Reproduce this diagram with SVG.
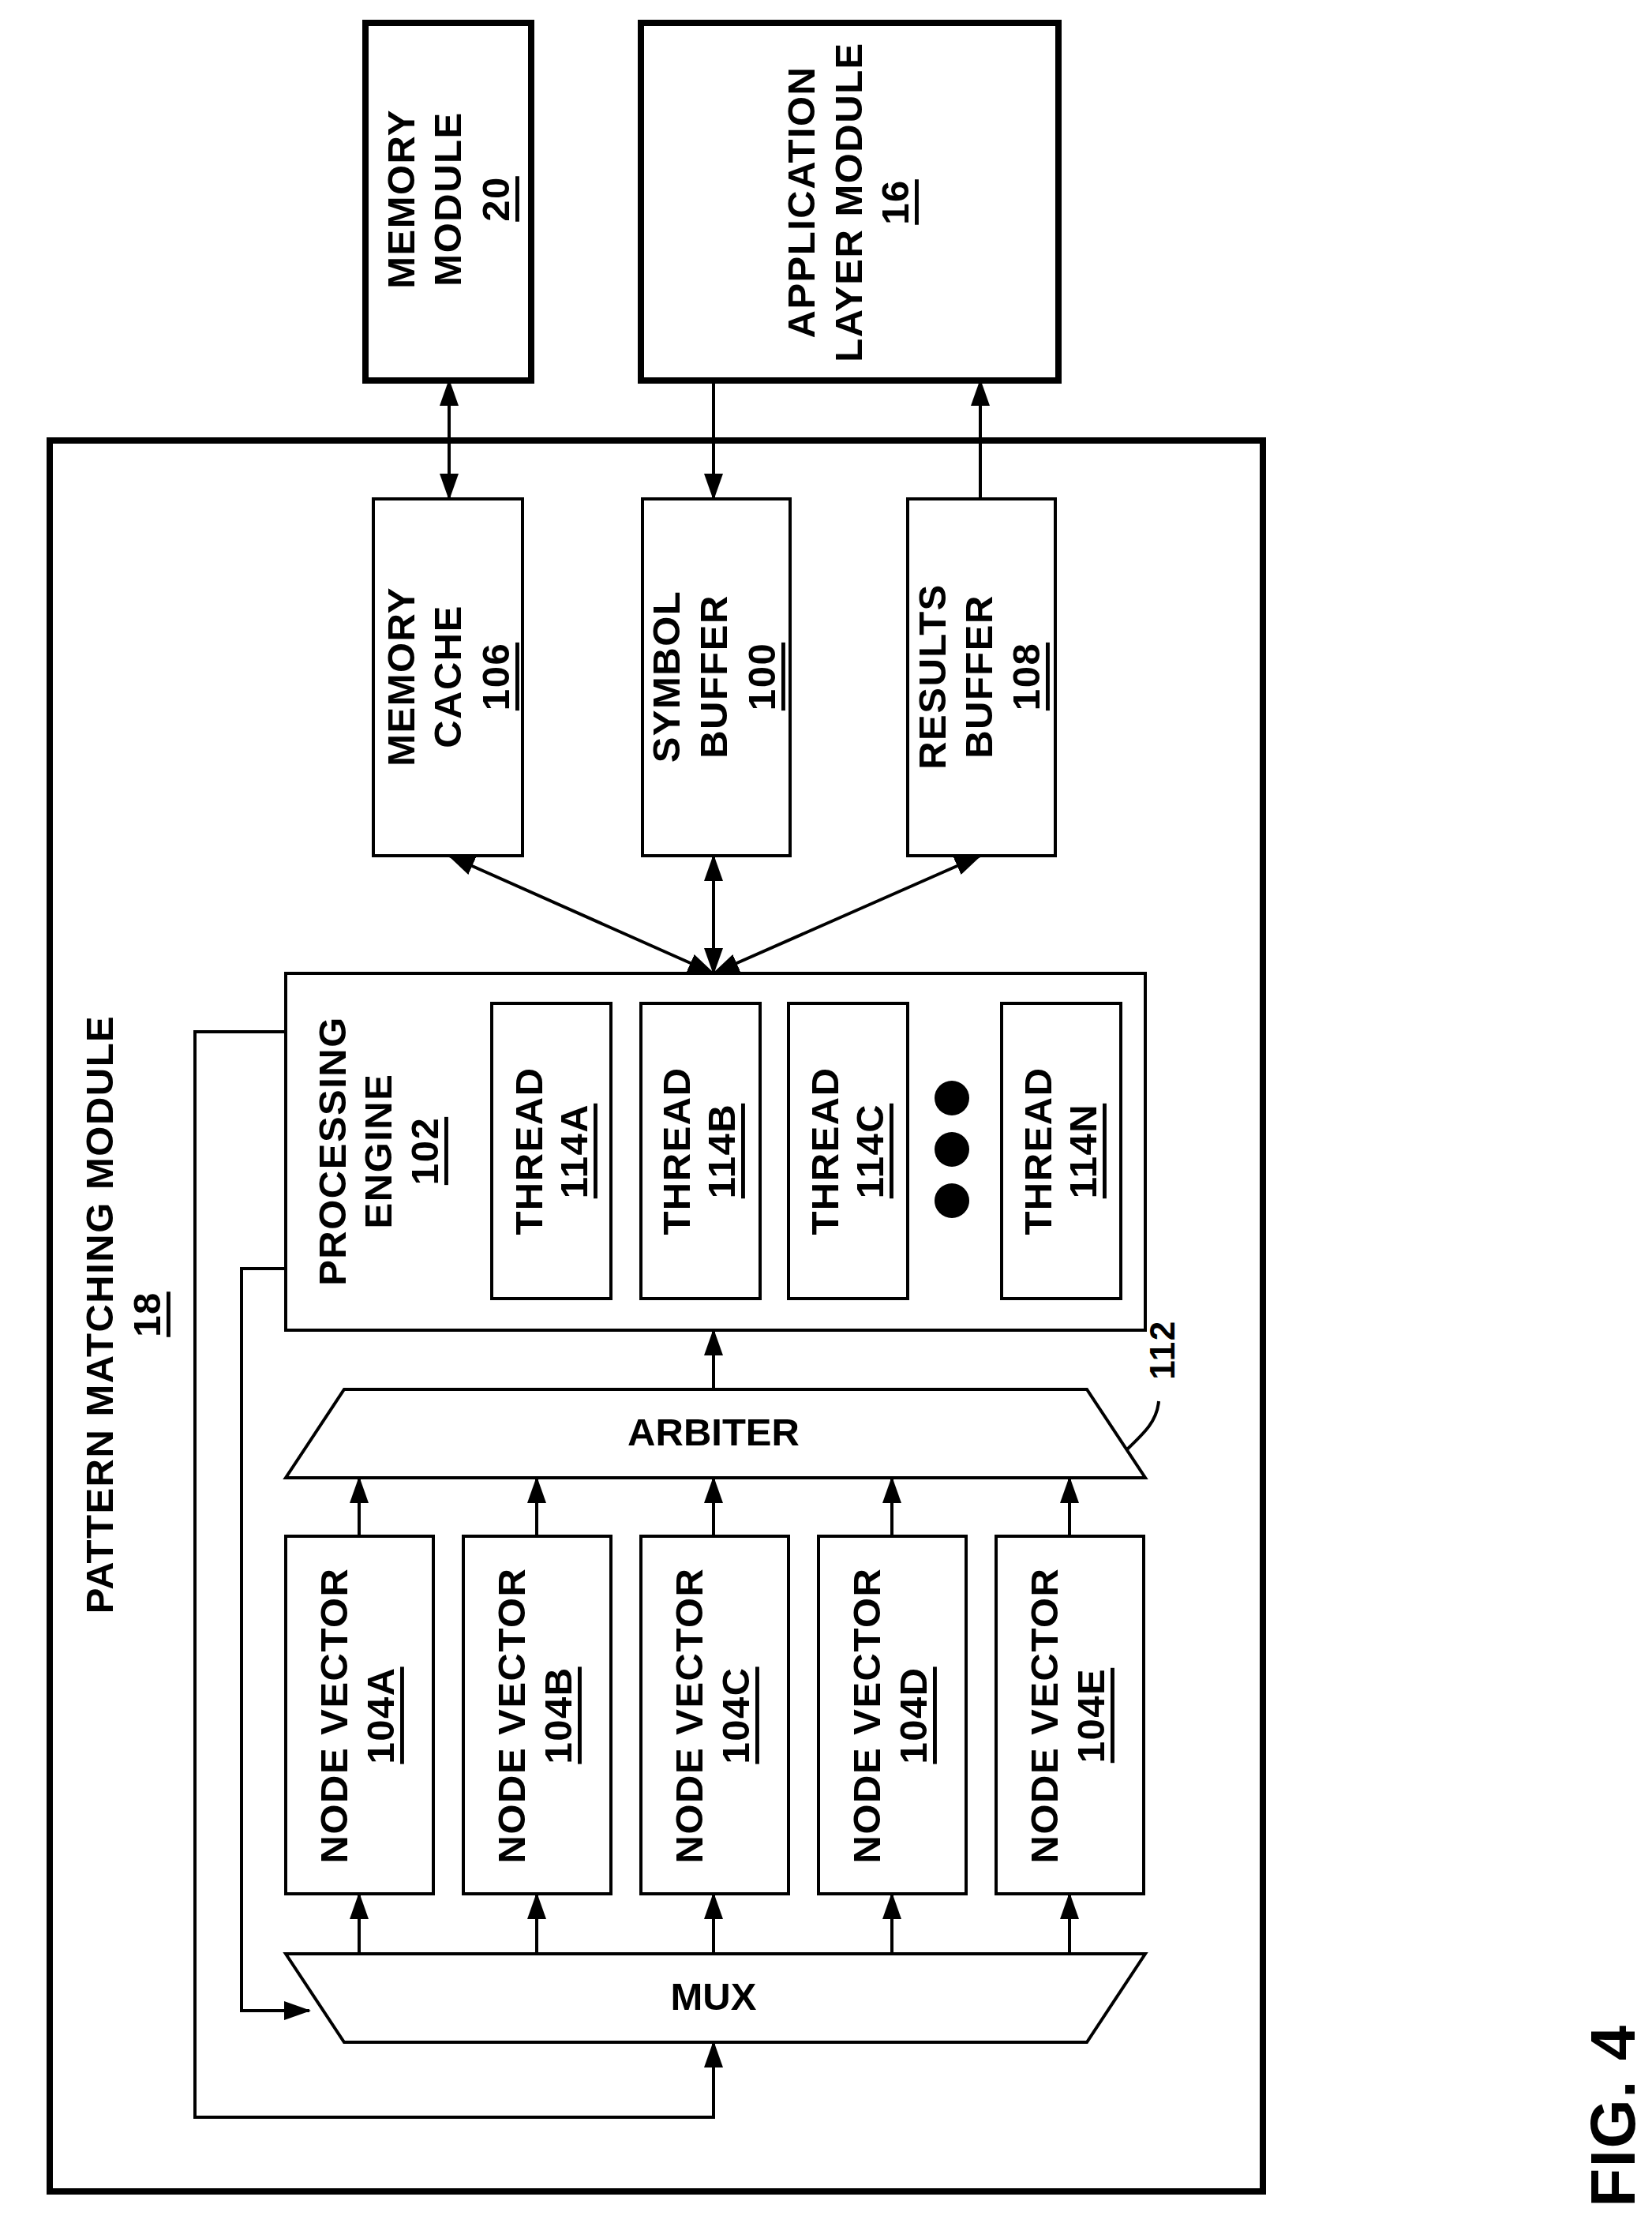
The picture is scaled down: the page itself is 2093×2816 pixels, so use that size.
<svg xmlns="http://www.w3.org/2000/svg" width="2093" height="2816" viewBox="0 0 2093 2816">
<style>
.b{fill:#fff;stroke:#000;stroke-width:4}
.k{fill:#fff;stroke:#000;stroke-width:8}
.t{font-family:"Liberation Sans",Arial,sans-serif;font-weight:bold;font-size:49px;letter-spacing:1.5px;text-anchor:middle;dominant-baseline:central}
.u{text-decoration:underline}
.c{fill:none;stroke:#000;stroke-width:4}
</style>
<defs>
<marker id="a" markerUnits="userSpaceOnUse" markerWidth="34" markerHeight="24" refX="32" refY="12" orient="auto-start-reverse"><path d="M0,0 L34,12 L0,24 Z" fill="#000"/></marker>
</defs>
<rect width="2093" height="2816" fill="#fff"/>
<g id="pmm"><rect class="k" x="63" y="558" width="1537" height="2218"/>
<text class="t" transform="translate(126,1665) rotate(-90)">PATTERN MATCHING MODULE</text>
<text class="t u" transform="translate(186,1665) rotate(-90)">18</text></g>
<g id="mem"><rect class="k" x="463" y="29" width="210" height="453"/>
<text class="t" transform="translate(508,252) rotate(-90)">MEMORY</text>
<text class="t" transform="translate(567,252) rotate(-90)">MODULE</text>
<text class="t u" transform="translate(628,252) rotate(-90)">20</text></g>
<g id="app"><rect class="k" x="812" y="29" width="529" height="453"/>
<text class="t" transform="translate(1015,256) rotate(-90)">APPLICATION</text>
<text class="t" transform="translate(1075,256) rotate(-90)">LAYER MODULE</text>
<text class="t u" transform="translate(1134,256) rotate(-90)">16</text></g>
<g id="cache"><rect class="b" x="473" y="632" width="189" height="452"/>
<text class="t" transform="translate(508,857) rotate(-90)">MEMORY</text>
<text class="t" transform="translate(567,857) rotate(-90)">CACHE</text>
<text class="t u" transform="translate(628,857) rotate(-90)">106</text></g>
<g id="symbol"><rect class="b" x="814" y="632" width="187" height="452"/>
<text class="t" transform="translate(844,857) rotate(-90)">SYMBOL</text>
<text class="t" transform="translate(904,857) rotate(-90)">BUFFER</text>
<text class="t u" transform="translate(965,857) rotate(-90)">100</text></g>
<g id="results"><rect class="b" x="1150" y="632" width="187" height="452"/>
<text class="t" transform="translate(1181,857) rotate(-90)">RESULTS</text>
<text class="t" transform="translate(1240,857) rotate(-90)">BUFFER</text>
<text class="t u" transform="translate(1300,857) rotate(-90)">108</text></g>
<g id="pe"><rect class="b" x="362" y="1233" width="1089" height="452"/>
<text class="t" transform="translate(421,1458) rotate(-90)">PROCESSING</text>
<text class="t" transform="translate(479,1458) rotate(-90)">ENGINE</text>
<text class="t u" transform="translate(538,1458) rotate(-90)">102</text>
<circle cx="1206" cy="1391" r="22"/><circle cx="1206" cy="1456" r="22"/><circle cx="1206" cy="1521" r="22"/></g>
<g id="t114a"><rect class="b" x="623" y="1271" width="151" height="374"/>
<text class="t" transform="translate(670,1458) rotate(-90)">THREAD</text>
<text class="t u" transform="translate(727,1458) rotate(-90)">114A</text></g>
<g id="t114b"><rect class="b" x="812" y="1271" width="151" height="374"/>
<text class="t" transform="translate(857,1458) rotate(-90)">THREAD</text>
<text class="t u" transform="translate(914,1458) rotate(-90)">114B</text></g>
<g id="t114c"><rect class="b" x="999" y="1271" width="151" height="374"/>
<text class="t" transform="translate(1045,1458) rotate(-90)">THREAD</text>
<text class="t u" transform="translate(1102,1458) rotate(-90)">114C</text></g>
<g id="t114n"><rect class="b" x="1269" y="1271" width="151" height="374"/>
<text class="t" transform="translate(1315,1458) rotate(-90)">THREAD</text>
<text class="t u" transform="translate(1372,1458) rotate(-90)">114N</text></g>
<g id="arbiter"><path class="b" d="M436,1760 L1377,1760 L1451,1872 L362,1872 Z"/>
<text class="t" x="904" y="1814" style="letter-spacing:0">ARBITER</text>
<text class="t" transform="translate(1472,1710) rotate(-90)" style="font-size:44px">112</text></g>
<g id="nv104a"><rect class="b" x="362" y="1946" width="187" height="453"/>
<text class="t" transform="translate(423,2173) rotate(-90)">NODE VECTOR</text>
<text class="t u" transform="translate(482,2173) rotate(-90)">104A</text></g>
<g id="nv104b"><rect class="b" x="587" y="1946" width="187" height="453"/>
<text class="t" transform="translate(648,2173) rotate(-90)">NODE VECTOR</text>
<text class="t u" transform="translate(707,2173) rotate(-90)">104B</text></g>
<g id="nv104c"><rect class="b" x="812" y="1946" width="187" height="453"/>
<text class="t" transform="translate(873,2173) rotate(-90)">NODE VECTOR</text>
<text class="t u" transform="translate(932,2173) rotate(-90)">104C</text></g>
<g id="nv104d"><rect class="b" x="1037" y="1946" width="187" height="453"/>
<text class="t" transform="translate(1098,2173) rotate(-90)">NODE VECTOR</text>
<text class="t u" transform="translate(1157,2173) rotate(-90)">104D</text></g>
<g id="nv104e"><rect class="b" x="1262" y="1946" width="187" height="453"/>
<text class="t" transform="translate(1323,2173) rotate(-90)">NODE VECTOR</text>
<text class="t u" transform="translate(1382,2173) rotate(-90)">104E</text></g>
<g id="mux"><path class="b" d="M362,2475 L1451,2475 L1377,2587 L436,2587 Z"/>
<text class="t" x="904" y="2529" style="letter-spacing:0">MUX</text></g>
<g id="connectors">
<line class="c" x1="569" y1="482" x2="569" y2="632" marker-start="url(#a)" marker-end="url(#a)"/>
<line class="c" x1="904" y1="482" x2="904" y2="632" marker-end="url(#a)"/>
<line class="c" x1="1242" y1="632" x2="1242" y2="482" marker-end="url(#a)"/>
<line class="c" x1="569" y1="1084" x2="904" y2="1233" marker-start="url(#a)" marker-end="url(#a)"/>
<line class="c" x1="904" y1="1084" x2="904" y2="1233" marker-start="url(#a)" marker-end="url(#a)"/>
<line class="c" x1="1242" y1="1084" x2="904" y2="1233" marker-start="url(#a)" marker-end="url(#a)"/>
<line class="c" x1="904" y1="1760" x2="904" y2="1685" marker-end="url(#a)"/>
<line class="c" x1="455" y1="1946" x2="455" y2="1872" marker-end="url(#a)"/>
<line class="c" x1="680" y1="1946" x2="680" y2="1872" marker-end="url(#a)"/>
<line class="c" x1="904" y1="1946" x2="904" y2="1872" marker-end="url(#a)"/>
<line class="c" x1="1130" y1="1946" x2="1130" y2="1872" marker-end="url(#a)"/>
<line class="c" x1="1355" y1="1946" x2="1355" y2="1872" marker-end="url(#a)"/>
<line class="c" x1="455" y1="2475" x2="455" y2="2399" marker-end="url(#a)"/>
<line class="c" x1="680" y1="2475" x2="680" y2="2399" marker-end="url(#a)"/>
<line class="c" x1="904" y1="2475" x2="904" y2="2399" marker-end="url(#a)"/>
<line class="c" x1="1130" y1="2475" x2="1130" y2="2399" marker-end="url(#a)"/>
<line class="c" x1="1355" y1="2475" x2="1355" y2="2399" marker-end="url(#a)"/>
<path class="c" d="M362,1307 L247,1307 L247,2682 L904,2682 L904,2587" marker-end="url(#a)"/>
<path class="c" d="M362,1607 L306,1607 L306,2547 L392,2547" marker-end="url(#a)"/>
<path class="c" d="M1428,1836 C1450,1815 1466,1800 1468,1775"/>
</g>
<text class="t" transform="translate(2043,2680) rotate(-90)" style="font-size:80px">FIG. 4</text>
</svg>
